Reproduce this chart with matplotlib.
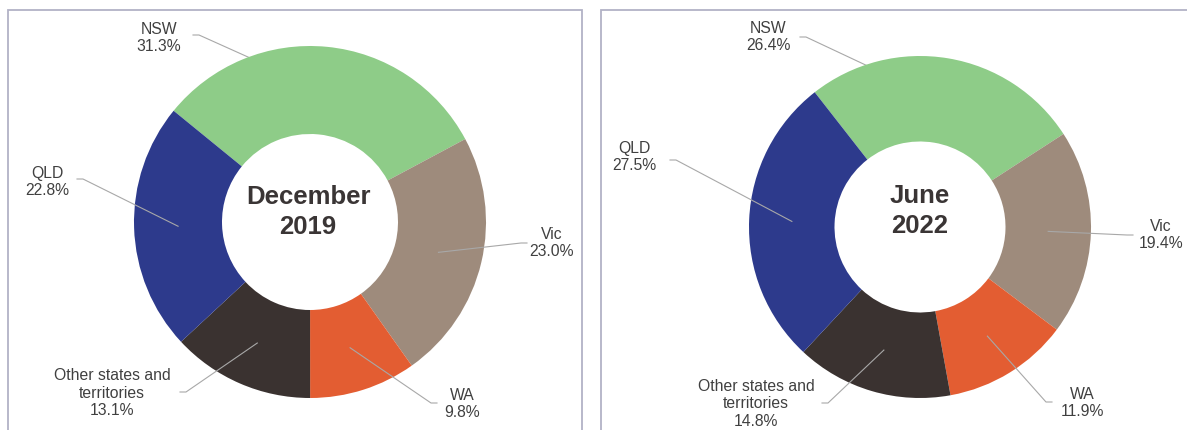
import matplotlib
matplotlib.use("Agg")
from matplotlib import pyplot as plt
from matplotlib.patches import Rectangle
from matplotlib.colors import to_rgb
import numpy as np

# data
states = ['NSW', 'Vic', 'WA', 'Other states and\nterritories', 'QLD']
dec_2019 = [31.3, 23.0, 9.8, 13.1, 22.8]
jun_2022 = [26.4, 19.4, 11.9, 14.8, 27.5]
titles = ['December\n2019', 'June\n2022']
colors = ['#8ECC88', '#9E8B7C', '#E35D32', '#3A3230', '#2D3A8C']

W, H = 1187, 430
plt.rcParams['font.family'] = ['Liberation Sans', 'DejaVu Sans']

fig = plt.figure(figsize=(W / 100, H / 100), dpi=100)
fig.patch.set_facecolor('white')

# panel borders (pixel positions)
for x0, x1 in [(8, 582), (601, 1200)]:
    fig.add_artist(Rectangle((x0 / W, -0.1), (x1 - x0) / W, (H - 10) / H + 0.1,
                             transform=fig.transFigure, fill=False,
                             edgecolor='#B2B2C6', linewidth=1.3))

# layout: donut centre/radius, label centres and leader anchors in pixels
layouts = [
    dict(cx=310, cy=222, r=176, start=140.8, title=(308, 212),
         text=[(159, 38), (552, 243), (462, 404), (112, 393), (47, 182)],
         anchor=[(193, 35), (527, 243), (437, 403), (180, 392), (77, 179)]),
    dict(cx=920, cy=227, r=171, start=128.0, title=(920, 211),
         text=[(768, 37), (1161, 235), (1082, 403), (756, 404), (634, 157)],
         anchor=[(800, 37), (1133, 235), (1052, 402), (822, 403), (670, 160)]),
]

for values, title, lay in zip([dec_2019, jun_2022], titles, layouts):
    cx, cy, r = lay['cx'], lay['cy'], lay['r']
    ax = fig.add_axes([(cx - r) / W, (H - cy - r) / H, 2 * r / W, 2 * r / H])
    wedges, _ = ax.pie(values, colors=colors, startangle=lay['start'],
                       counterclock=False, radius=1,
                       wedgeprops=dict(width=0.5, linewidth=0))
    ax.set_xlim(-1, 1)
    ax.set_ylim(-1, 1)
    ax.set_aspect('equal')
    ax.axis('off')

    def to_data(p):
        return ((p[0] - cx) / r, (cy - p[1]) / r)

    for w, name, v, tp, ap, c in zip(wedges, states, values, lay['text'],
                                     lay['anchor'], colors):
        mid = np.deg2rad((w.theta1 + w.theta2) / 2)
        tx, ty = 0.75 * np.cos(mid), 0.75 * np.sin(mid)
        axp = to_data(ap)
        step = 6 / r if tx > axp[0] else -6 / r
        # leader lines get lost on the light slice, so draw them underneath there
        light = np.mean(to_rgb(c)) > 0.6
        ax.plot([axp[0], axp[0] + step, tx], [axp[1], axp[1], ty],
                color='#A8A8A8', linewidth=0.8, clip_on=False,
                zorder=0 if light else 3)
        lx, ly = to_data(tp)
        ax.text(lx, ly, '%s\n%.1f%%' % (name, v), ha='center', va='center',
                fontsize=11.3, color='#404040', linespacing=1.22)

    tx, ty = to_data(lay['title'])
    ax.text(tx, ty, title, ha='center', va='center', fontsize=18.5,
            fontweight='bold', color='#3A3535', linespacing=1.27)

fig.savefig('out.png', dpi=100)
